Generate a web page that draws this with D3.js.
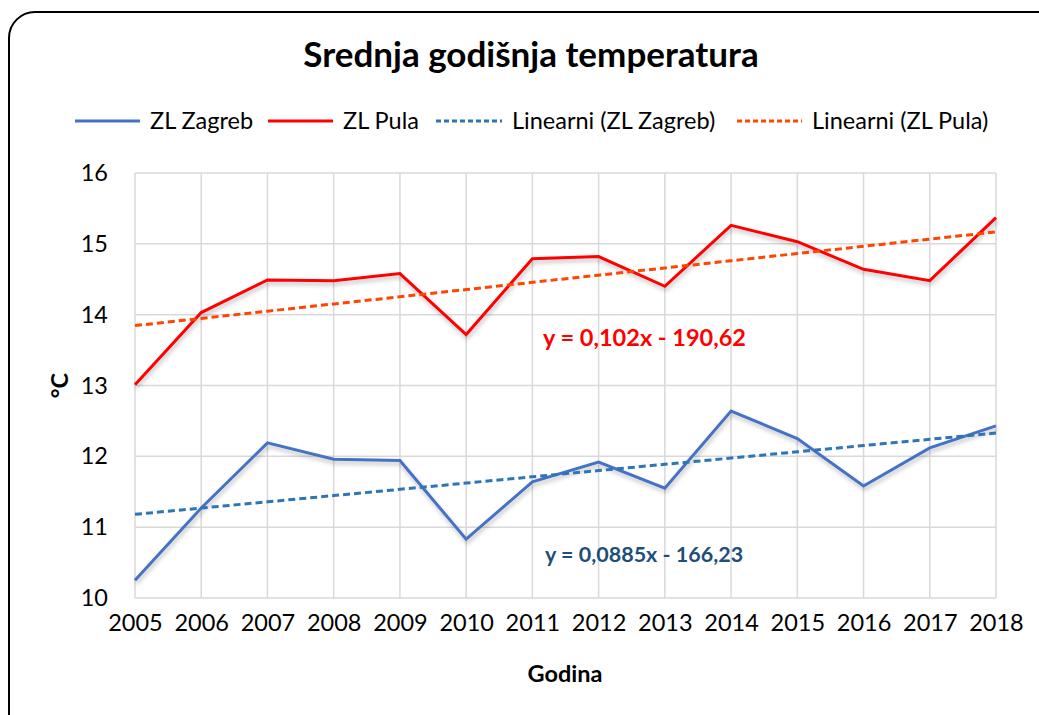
<!DOCTYPE html>
<html>
<head>
<meta charset="utf-8">
<script src="https://cdn.jsdelivr.net/npm/d3@7"></script>
<style>
  body { margin: 0; background: #fff; }
  text { font-family: Lato, "Open Sans", sans-serif; }
</style>
</head>
<body>
<div id="chart"></div>
<script>
const years = [2005, 2006, 2007, 2008, 2009, 2010, 2011, 2012, 2013, 2014, 2015, 2016, 2017, 2018];
const zagreb = [10.25, 11.27, 12.19, 11.96, 11.94, 10.83, 11.64, 11.92, 11.55, 12.64, 12.25, 11.58, 12.12, 12.43];
const pula = [13.01, 14.03, 14.49, 14.48, 14.58, 13.72, 14.79, 14.82, 14.40, 15.26, 15.03, 14.64, 14.48, 15.37];
const yTicks = [10, 11, 12, 13, 14, 15, 16];
const seriesNames = ["ZL Zagreb", "ZL Pula", "Linearni (ZL Zagreb)", "Linearni (ZL Pula)"];
const equations = ["y = 0,0885x - 166,23", "y = 0,102x - 190,62"];

const width = 1039, height = 715;
const margin = { top: 173, right: 43, bottom: 117, left: 135 };
const fs = 23.5;

const svg = d3.select("#chart").append("svg")
    .attr("width", width)
    .attr("height", height);

const defs = svg.append("defs");
const shadow = defs.append("filter").attr("id", "shadow")
    .attr("x", "-5%").attr("y", "-5%").attr("width", "110%").attr("height", "120%");
shadow.append("feDropShadow")
    .attr("dx", 1).attr("dy", 3).attr("stdDeviation", 2)
    .attr("flood-color", "#000").attr("flood-opacity", 0.25);

// frame
svg.append("rect")
    .attr("x", 9).attr("y", 12)
    .attr("width", 1060).attr("height", 740)
    .attr("rx", 26)
    .attr("fill", "#fff")
    .attr("stroke", "#000")
    .attr("stroke-width", 2);

const x = d3.scaleLinear()
    .domain([2005, 2018])
    .range([margin.left, width - margin.right]);

const y = d3.scaleLinear()
    .domain([10, 16])
    .range([height - margin.bottom, margin.top]);

// grid
svg.append("g").selectAll("line.v")
    .data(years).enter().append("line")
    .attr("x1", d => x(d)).attr("x2", d => x(d))
    .attr("y1", y(16)).attr("y2", y(10))
    .attr("stroke", "#d9d9d9").attr("stroke-width", 1.5);

svg.append("g").selectAll("line.h")
    .data(yTicks).enter().append("line")
    .attr("x1", x(2005)).attr("x2", x(2018))
    .attr("y1", d => y(d)).attr("y2", d => y(d))
    .attr("stroke", "#d9d9d9").attr("stroke-width", 1.5);

// axes
const xAxis = svg.append("g")
    .attr("transform", `translate(0,${y(10)})`)
    .call(d3.axisBottom(x).tickValues(years).tickFormat(d3.format("d")).tickSize(0).tickPadding(16));
xAxis.select(".domain").remove();
xAxis.selectAll("text").attr("font-size", fs).attr("fill", "#000")
    .style("font-family", "Lato, sans-serif");

const yAxis = svg.append("g")
    .attr("transform", `translate(${x(2005)},0)`)
    .call(d3.axisLeft(y).tickValues(yTicks).tickFormat(d3.format("d")).tickSize(0).tickPadding(27));
yAxis.select(".domain").remove();
yAxis.selectAll("text").attr("font-size", fs).attr("fill", "#000")
    .style("font-family", "Lato, sans-serif");

// linear regression like the Excel trendline
function linreg(xs, ys) {
    const mx = d3.mean(xs), my = d3.mean(ys);
    const b = d3.sum(xs, (v, i) => (v - mx) * (ys[i] - my)) / d3.sum(xs, v => (v - mx) * (v - mx));
    const a = my - b * mx;
    return xs.map(v => ({ x: v, y: a + b * v }));
}

const line = d3.line().x(d => x(d.x)).y(d => y(d.y));
const zagrebPts = years.map((d, i) => ({ x: d, y: zagreb[i] }));
const pulaPts = years.map((d, i) => ({ x: d, y: pula[i] }));

const series = [
    { name: seriesNames[0], pts: zagrebPts, color: "#4472c4", dash: null, shadow: true },
    { name: seriesNames[1], pts: pulaPts, color: "#ff0000", dash: null, shadow: true },
    { name: seriesNames[2], pts: linreg(years, zagreb), color: "#2e75b6", dash: "7,4", shadow: false },
    { name: seriesNames[3], pts: linreg(years, pula), color: "#ff4500", dash: "7,4", shadow: false }
];

svg.append("g").selectAll("path")
    .data(series).enter().append("path")
    .attr("d", d => line(d.pts))
    .attr("fill", "none")
    .attr("stroke", d => d.color)
    .attr("stroke-width", 3)
    .attr("stroke-dasharray", d => d.dash)
    .attr("filter", d => d.shadow ? "url(#shadow)" : null);

// equations
svg.append("text")
    .attr("x", 543).attr("y", 346)
    .attr("font-size", fs).attr("font-weight", "bold")
    .attr("fill", "#ff0000")
    .text(equations[1]);

svg.append("text")
    .attr("x", 545).attr("y", 562)
    .attr("font-size", 21.5).attr("font-weight", "bold")
    .attr("fill", "#1f4e79")
    .text(equations[0]);

// title
svg.append("text")
    .attr("x", 531).attr("y", 67)
    .attr("text-anchor", "middle")
    .attr("font-size", 35).attr("font-weight", "bold")
    .text("Srednja godišnja temperatura");

// axis titles
svg.append("text")
    .attr("x", 565).attr("y", 682)
    .attr("text-anchor", "middle")
    .attr("font-size", fs).attr("font-weight", "bold")
    .text("Godina");

svg.append("text")
    .attr("transform", `translate(68,${y(13)}) rotate(-90)`)
    .attr("text-anchor", "middle")
    .attr("font-size", fs).attr("font-weight", "bold")
    .text("°C");

// legend
const legendX = [75, 268, 436, 737];
const legendTextX = [150, 343, 512, 812];
const legend = svg.append("g").selectAll("g")
    .data(series).enter().append("g")
    .attr("transform", (d, i) => `translate(${legendX[i]},121)`);

legend.append("line")
    .attr("x1", 0).attr("x2", (d, i) => legendTextX[i] - legendX[i] - 10)
    .attr("stroke", d => d.color)
    .attr("stroke-width", 3)
    .attr("stroke-dasharray", d => d.dash ? "5,3" : null);

legend.append("text")
    .attr("x", (d, i) => legendTextX[i] - legendX[i])
    .attr("y", 8)
    .attr("font-size", fs)
    .text(d => d.name);
</script>
</body>
</html>
